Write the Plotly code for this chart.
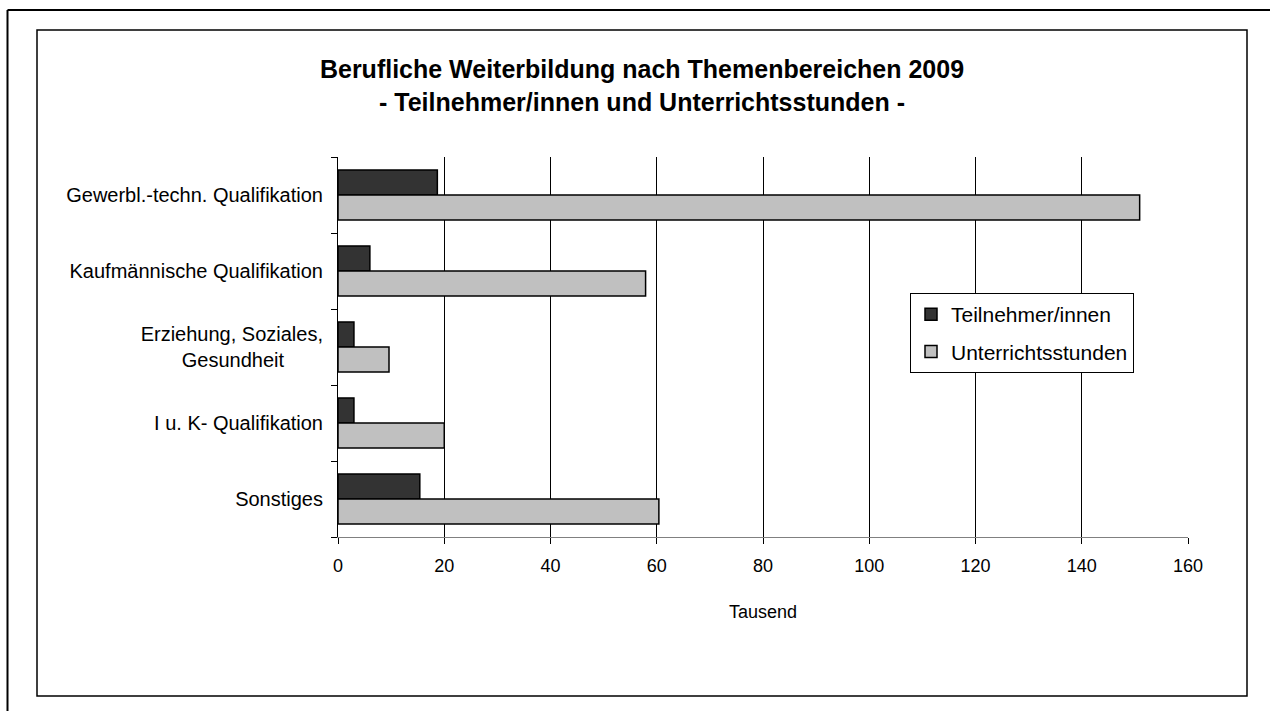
import plotly.graph_objects as go

categories = [
    "Gewerbl.-techn. Qualifikation",
    "Kaufmännische Qualifikation",
    "Erziehung, Soziales,<br>Gesundheit",
    "I u. K- Qualifikation",
    "Sonstiges",
]
teilnehmer = [18.7, 6.0, 3.0, 3.0, 15.4]
unterrichtsstunden = [150.9, 57.9, 9.6, 20.0, 60.4]
x_ticks = [0, 20, 40, 60, 80, 100, 120, 140, 160]

# tick label text (multi-line label centred like the original)
tick_text = [c.replace("<br>Gesundheit", "<br>Gesundheit" + "&nbsp;" * 7) for c in categories]

W, H = 1270, 711
L, R, T, B = 338, 1188, 157, 537
FONT = "Liberation Sans, Arial, sans-serif"


def px(x):
    return (x - L) / (R - L)


def py(y):
    return (B - y) / (B - T)


fig = go.Figure()
fig.add_trace(go.Bar(
    y=categories, x=teilnehmer, orientation="h", name="Teilnehmer/innen",
    marker=dict(color="#333333", line=dict(color="black", width=1.5)),
    legendgroup="a",
))
fig.add_trace(go.Bar(
    y=categories, x=unterrichtsstunden, orientation="h", name="Unterrichtsstunden",
    marker=dict(color="#C0C0C0", line=dict(color="black", width=1.5)),
    legendgroup="b",
))

shapes = [
    dict(type="rect", xref="paper", yref="paper",
         x0=px(37), x1=px(1247), y0=py(696), y1=py(30),
         line=dict(color="black", width=1.5), layer="below"),
    dict(type="line", xref="paper", yref="paper",
         x0=px(7.5), x1=px(1272), y0=py(10), y1=py(10),
         line=dict(color="black", width=2)),
    dict(type="line", xref="paper", yref="paper",
         x0=px(7.5), x1=px(7.5), y0=py(10), y1=py(713),
         line=dict(color="black", width=2)),
]

fig.update_layout(
    width=W, height=H,
    margin=dict(l=L, r=W - R, t=T, b=H - B, autoexpand=False),
    paper_bgcolor="white", plot_bgcolor="white",
    font=dict(family=FONT, size=20, color="black"),
    title=dict(
        text="<b>Berufliche Weiterbildung nach Themenbereichen 2009<br>- Teilnehmer/innen und Unterrichtsstunden -</b>",
        x=642 / W, xanchor="center", xref="container",
        y=1 - 78 / H, yanchor="middle", yref="container",
        font=dict(family=FONT, size=25, color="black"),
    ),
    barmode="group", bargap=0.34, bargroupgap=0,
    showlegend=True,
    legend=dict(
        x=px(910), y=py(293), xanchor="left", yanchor="top",
        bordercolor="black", borderwidth=1, bgcolor="white",
        font=dict(family=FONT, size=21, color="black"),
        traceorder="grouped", tracegroupgap=7,
        itemwidth=30,
    ),
    shapes=shapes,
    xaxis=dict(
        range=[0, 160], tickvals=x_ticks, ticktext=[str(v) for v in x_ticks],
        tickfont=dict(size=18),
        showgrid=True, gridcolor="black", gridwidth=1,
        showline=True, linecolor="#808080", linewidth=1,
        ticks="outside", ticklen=6, tickcolor="black",
        ticklabelstandoff=6,
        title=dict(text="Tausend", standoff=30, font=dict(size=18)),
        zeroline=False, fixedrange=True,
    ),
    yaxis=dict(
        autorange="reversed", type="category",
        tickvals=categories, ticktext=tick_text,
        showline=True, linecolor="black", linewidth=1,
        ticks="outside", ticklen=6, tickcolor="black",
        tickson="boundaries", showgrid=False,
        ticklabelstandoff=10, fixedrange=True,
    ),
)

fig.write_html("out.html", config={"displayModeBar": False},
               post_script="document.body.style.margin='0';")
